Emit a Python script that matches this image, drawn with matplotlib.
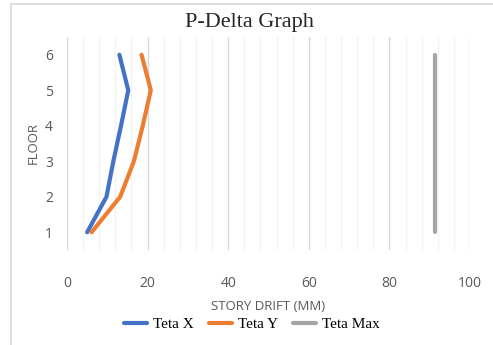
import matplotlib.pyplot as plt
from matplotlib.patches import Rectangle

# data
floors = [1, 2, 3, 4, 5, 6]
teta_x = [5.0, 9.8, 11.5, 13.4, 15.2, 13.0]
teta_y = [6.1, 13.2, 16.6, 18.8, 20.8, 18.5]
teta_max = [91.3, 91.3, 91.3, 91.3, 91.3, 91.3]

fig = plt.figure(figsize=(4.93, 3.45), dpi=100)
ax = fig.add_axes([67/493, 1-250/345, (470-67)/493, (250-37)/345])

ax.plot(teta_x, floors, color='#4472C4', lw=3, solid_capstyle='round', label='Teta X')
ax.plot(teta_y, floors, color='#ED7D31', lw=3, solid_capstyle='round', label='Teta Y')
ax.plot(teta_max, floors, color='#A5A5A5', lw=3, solid_capstyle='round', label='Teta Max')

ax.set_xlim(0, 100)
ax.set_ylim(0.5, 6.5)
ax.set_xticks(range(0, 101, 20))
ax.set_xticks(range(0, 101, 4), minor=True)
ax.set_yticks(floors)
ax.grid(axis='x', which='major', color='#D9D9D9', lw=1)
ax.grid(axis='x', which='minor', color='#F4F4F4', lw=1)
ax.set_axisbelow(True)
for s in ax.spines.values():
    s.set_visible(False)
ax.tick_params(which='both', length=0, colors='#595959', labelsize=10)
ax.tick_params(axis='x', pad=19)
ax.tick_params(axis='y', pad=10)
for lab in ax.get_xticklabels() + ax.get_yticklabels():
    lab.set_family('Open Sans')

ax.set_ylabel('FLOOR', family='Open Sans', fontsize=9.5, color='#595959', labelpad=4)
fig.text(268/493, 1-307/345, 'STORY DRIFT (MM)', ha='center', va='center',
         family='Open Sans', fontsize=9.5, color='#595959')
fig.text(249/493, 1-22/345, 'P-Delta Graph', ha='center', va='center',
         family='Liberation Serif', fontsize=16, color='#262626')

fig.legend(loc='center', bbox_to_anchor=(252/493, 1-324/345), ncol=3, frameon=False,
           prop={'family': 'Liberation Serif', 'size': 11}, handlelength=1.5,
           columnspacing=1.0, handletextpad=0.4)

# chart border (right and bottom edges fall outside the image)
fig.patches.append(Rectangle((11/493, -0.1), 1.0, 1-4/345 + 0.1, transform=fig.transFigure,
                             fill=False, edgecolor='#D9D9D9', lw=1.2))

fig.savefig('out.png', dpi=100)
